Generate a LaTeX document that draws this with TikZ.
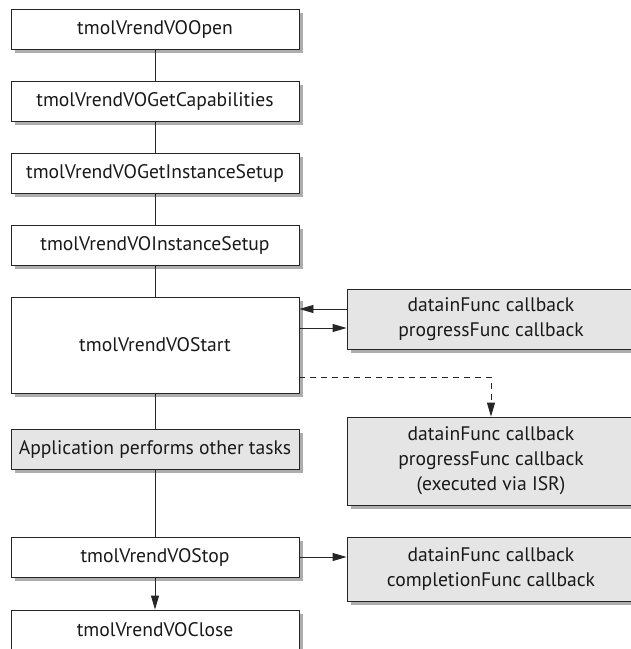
\documentclass[tikz,border=0pt]{standalone}
\usepackage{fontspec}
\setmainfont{PT Sans}
\usetikzlibrary{arrows.meta,shadows}

\begin{document}
\begin{tikzpicture}[x=1pt,y=-1pt,
  box/.style={draw=black!85, line width=0.9pt, fill=white,
    minimum width=288pt, minimum height=40pt, inner sep=0pt,
    align=center, text=black!90,
    font=\fontsize{19.6}{25}\selectfont,
    drop shadow={shadow xshift=4pt, shadow yshift=-4pt, fill=black!32, opacity=1}},
  graybox/.style={box, fill=black!10},
  link/.style={draw=black!85, line width=0.9pt},
  arr/.style={link, -{Triangle[length=14pt,width=8pt]}},
]
\clip (0,0) rectangle (631,649);

% main call sequence
\node[box] (open)    at (155,29)  {tmolVrendVOOpen};
\node[box] (cap)     at (155,101) {tmolVrendVOGetCapabilities};
\node[box] (getinst) at (155,173) {tmolVrendVOGetInstanceSetup};
\node[box] (inst)    at (155,245) {tmolVrendVOInstanceSetup};
\node[box, minimum height=96pt] (start) at (155,345) {tmolVrendVOStart};
\node[graybox] (app) at (155,449) {Application performs other tasks};
\node[box] (stop)    at (155,557) {tmolVrendVOStop};
\node[box] (close)   at (155,630) {tmolVrendVOClose};

% callbacks
\node[graybox, minimum height=60pt] (cb1) at (491,319)
  {datainFunc callback\\progressFunc callback};
\node[graybox, minimum height=88pt] (isr) at (491,461)
  {datainFunc callback\\progressFunc callback\\(executed via ISR)};
\node[graybox, minimum height=64pt] (cb3) at (491,569)
  {datainFunc callback\\completionFunc callback};

% vertical flow
\draw[link] (open) -- (cap);
\draw[link] (cap) -- (getinst);
\draw[link] (getinst) -- (inst);
\draw[link] (inst) -- (start);
\draw[link] (start) -- (app);
\draw[link] (app) -- (stop);
\draw[arr] (stop) -- (close);

% callback connectors
\draw[arr] ([yshift=10pt]cb1.west) -- ([yshift=36pt]start.east);
\draw[arr] ([yshift=17pt]start.east) -- ([yshift=-9pt]cb1.west);
\draw[arr, dashed, dash pattern=on 6pt off 5pt] ([yshift=-32pt]start.east) -| (isr.north);
\draw[arr] (stop.east) -- (stop.east -| cb3.west);
\end{tikzpicture}
\end{document}
